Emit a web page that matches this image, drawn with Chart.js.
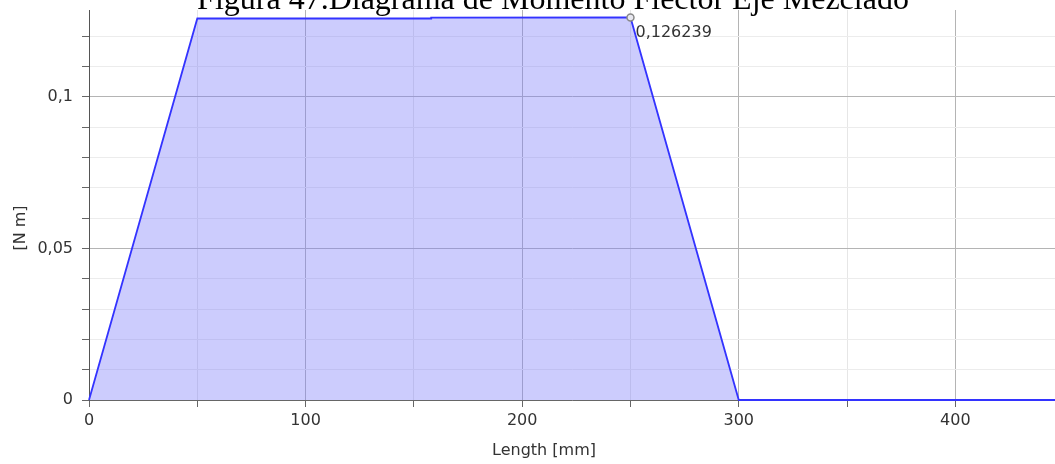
<!DOCTYPE html>
<html>
<head>
<meta charset="utf-8">
<script src="https://cdn.jsdelivr.net/npm/chart.js@4.4.1/dist/chart.umd.min.js"></script>
<style>
html,body{margin:0;padding:0;background:#fff;}
#wrap{width:1055px;height:464px;position:relative;}
</style>
</head>
<body>
<div id="wrap"><canvas id="c" width="1055" height="464"></canvas></div>
<script>
// ---- data ----
const chartTitle = "Figura 47.Diagrama de Momento Flector Eje Mezclado";
const xTitle = "Length [mm]";
const yTitle = "[N m]";
const lengths = [0, 50, 158, 158, 250, 300, 446];
const moments = [0, 0.1259, 0.1259, 0.1262, 0.126239, 0, 0];
const peakIndex = 4;
const peakLabel = "0,126239";
const xRange = [0, 446];
const yRange = [0, 0.1287];

const FONT = "'DejaVu Sans', sans-serif";

const textPlugin = {
  id: 'texts',
  afterDraw(chart) {
    const ctx = chart.ctx;
    const xs = chart.scales.x, ys = chart.scales.y;
    ctx.save();
    // title
    ctx.fillStyle = '#000';
    ctx.font = "32px 'Liberation Serif', 'Times New Roman', serif";
    ctx.textAlign = 'center';
    ctx.textBaseline = 'alphabetic';
    ctx.fillText(chartTitle, 553, 9);
    // x title
    ctx.fillStyle = '#333';
    ctx.font = "16px " + FONT;
    ctx.textBaseline = 'middle';
    ctx.fillText(xTitle, 544, 451);
    // y title
    ctx.translate(21, 228);
    ctx.rotate(-Math.PI / 2);
    ctx.fillText(yTitle, 0, 0);
    ctx.restore();
    // peak label
    ctx.save();
    const px = xs.getPixelForValue(lengths[peakIndex]);
    const py = ys.getPixelForValue(moments[peakIndex]);
    ctx.fillStyle = '#333';
    ctx.font = "16px " + FONT;
    ctx.textAlign = 'left';
    ctx.textBaseline = 'middle';
    ctx.fillText(peakLabel, px + 5, py + 15);
    ctx.restore();
  }
};

new Chart(document.getElementById('c'), {
  type: 'line',
  data: {
    datasets: [{
      data: lengths.map((x, i) => ({x: x, y: moments[i]})),
      borderColor: '#3333ff',
      borderWidth: 1.8,
      backgroundColor: 'rgba(120,120,250,0.38)',
      fill: 'origin',
      tension: 0,
      pointRadius: (c) => c.dataIndex === peakIndex ? 3.5 : 0,
      pointBorderColor: '#888',
      pointBackgroundColor: '#e8e8f0',
      pointBorderWidth: 1.5,
      clip: false
    }]
  },
  options: {
    responsive: false,
    animation: false,
    devicePixelRatio: 1,
    layout: {padding: {top: 10, right: 0, left: 0, bottom: 0}},
    plugins: {legend: {display: false}, tooltip: {enabled: false}, title: {display: false}},
    scales: {
      x: {
        type: 'linear',
        min: xRange[0], max: xRange[1],
        afterFit(s) { s.height = 64; s.paddingRight = 0; s.paddingLeft = 0; },
        border: {color: '#666', width: 1},
        grid: {
          color: (c) => (Math.round(c.tick.value) % 100 === 0) ? '#b4b4b4' : '#e6e6e6',
          tickColor: '#666',
          tickLength: 7,
          lineWidth: 1
        },
        ticks: {
          stepSize: 50,
          includeBounds: false,
          autoSkip: false,
          maxRotation: 0,
          padding: 4,
          color: '#333',
          font: {family: FONT, size: 16},
          callback: (v) => (Math.round(v) % 100 === 0) ? String(Math.round(v)) : ''
        }
      },
      y: {
        type: 'linear',
        min: yRange[0], max: yRange[1],
        afterFit(s) { s.width = 89; s.paddingTop = 0; s.paddingBottom = 0; },
        border: {color: '#555', width: 1},
        grid: {
          color: (c) => (Math.round(c.tick.value * 100) % 5 === 0) ? '#b4b4b4' : '#ececec',
          tickColor: '#666',
          tickLength: 7,
          lineWidth: 1
        },
        ticks: {
          stepSize: 0.01,
          includeBounds: false,
          autoSkip: false,
          padding: 9,
          color: '#333',
          font: {family: FONT, size: 16},
          callback: (v) => {
            const r = Math.round(v * 100);
            if (r % 5 !== 0) return '';
            return String(r / 100).replace('.', ',');
          }
        }
      }
    }
  },
  plugins: [textPlugin]
});
</script>
</body>
</html>
